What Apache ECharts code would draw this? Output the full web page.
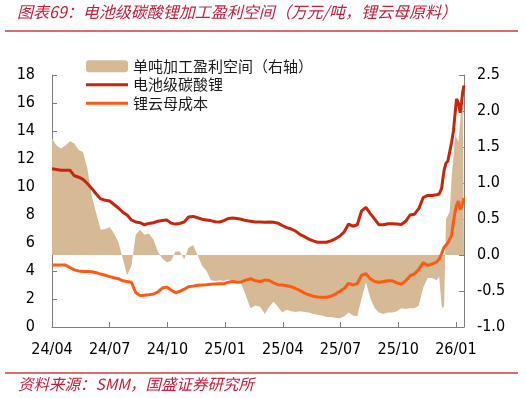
<!DOCTYPE html>
<html>
<head>
<meta charset="utf-8">
<script src="https://cdn.jsdelivr.net/npm/echarts@6/dist/echarts.min.js"></script>
<style>
  html, body { margin: 0; padding: 0; background: #fff; }
  #chart { width: 526px; height: 398px; }
</style>
</head>
<body>
<div id="chart"></div>
<script>
// 周度日期，12月后按几天取点
const dates = [
  '2024-04-01','2024-04-08','2024-04-15','2024-04-22','2024-04-29',
  '2024-05-06','2024-05-13','2024-05-20','2024-05-27',
  '2024-06-03','2024-06-10','2024-06-17','2024-06-24',
  '2024-07-01','2024-07-08','2024-07-15','2024-07-22','2024-07-29',
  '2024-08-05','2024-08-12','2024-08-19','2024-08-26',
  '2024-09-02','2024-09-09','2024-09-16','2024-09-23','2024-09-30',
  '2024-10-07','2024-10-14','2024-10-21','2024-10-28',
  '2024-11-04','2024-11-11','2024-11-18','2024-11-25',
  '2024-12-02','2024-12-09','2024-12-16','2024-12-23','2024-12-30',
  '2025-01-06','2025-01-13','2025-01-20','2025-01-27',
  '2025-02-03','2025-02-10','2025-02-17','2025-02-24',
  '2025-03-03','2025-03-10','2025-03-17','2025-03-24','2025-03-31',
  '2025-04-07','2025-04-14','2025-04-21','2025-04-28',
  '2025-05-05','2025-05-12','2025-05-19','2025-05-26',
  '2025-06-02','2025-06-09','2025-06-16','2025-06-23','2025-06-30',
  '2025-07-07','2025-07-14','2025-07-21','2025-07-28',
  '2025-08-04','2025-08-11','2025-08-18','2025-08-25',
  '2025-09-01','2025-09-08','2025-09-15','2025-09-22','2025-09-29',
  '2025-10-06','2025-10-13','2025-10-20','2025-10-27',
  '2025-11-03','2025-11-10','2025-11-17','2025-11-24',
  '2025-12-01','2025-12-05','2025-12-09','2025-12-11','2025-12-13','2025-12-16',
  '2025-12-19','2025-12-22','2025-12-25','2025-12-28','2025-12-31',
  '2026-01-02','2026-01-05','2026-01-08','2026-01-10','2026-01-12','2026-01-14'
];

// 电池级碳酸锂（万元/吨，左轴）
const li2co3Price = [
  11.3, 11.25, 11.2, 11.2, 11.2, 10.8, 10.7, 10.55, 10.25, 9.9,
  9.5, 9.15, 9.05, 9.0, 8.75, 8.5, 8.2, 8.0, 7.65, 7.5,
  7.45, 7.3, 7.4, 7.45, 7.55, 7.6, 7.65, 7.42, 7.35, 7.4,
  7.5, 7.85, 7.9, 7.8, 7.7, 7.65, 7.6, 7.52, 7.5, 7.6,
  7.75, 7.78, 7.75, 7.7, 7.6, 7.55, 7.5, 7.5, 7.48, 7.5,
  7.48, 7.42, 7.25, 7.1, 7.0, 6.85, 6.6, 6.45, 6.28, 6.15,
  6.05, 6.05, 6.05, 6.15, 6.3, 6.5, 6.8, 7.35, 7.2, 7.3,
  8.3, 8.55, 8.1, 7.7, 7.3, 7.3, 7.38, 7.38, 7.35, 7.32,
  7.55, 8.0, 8.05, 8.45, 9.25, 9.4, 9.4, 9.45,
  9.5, 9.9, 10.6, 11.2, 11.7, 11.85, 11.95, 13.2, 14.0, 15.4,
  16.3, 16.0, 15.3, 16.0, 16.8, 17.25
];

// 锂云母成本（万元/吨，左轴）
const lepidoliteCost = [
  4.42, 4.42, 4.42, 4.42, 4.25, 4.08, 4.0, 3.97, 3.96, 3.95,
  3.88, 3.78, 3.7, 3.6, 3.52, 3.45, 3.3, 3.25, 3.2, 2.45,
  2.25, 2.27, 2.3, 2.35, 2.5, 2.78, 2.85, 2.65, 2.45, 2.55,
  2.7, 2.88, 2.92, 2.98, 3.0, 3.02, 3.05, 3.08, 3.09, 3.09,
  3.2, 3.25, 3.2, 3.22, 3.35, 3.45, 3.3, 3.25, 3.35, 3.32,
  3.15, 3.02, 3.0, 2.95, 2.88, 2.75, 2.6, 2.42, 2.3, 2.2,
  2.15, 2.13, 2.12, 2.2, 2.35, 2.55, 2.75, 3.12, 3.0, 3.1,
  3.7, 3.8, 3.45, 3.25, 3.2, 3.25, 3.3, 3.3, 3.15, 3.05,
  3.3, 3.65, 3.8, 4.1, 4.6, 4.4, 4.5, 4.65,
  4.85, 5.25, 5.5, 5.7, 5.85, 6.0, 6.1, 6.55, 7.5, 8.3,
  8.7, 9.0, 8.4, 8.55, 8.9, 9.2
];

// 单吨加工盈利空间（万元/吨，右轴）
const unitMargin = [
  1.62, 1.52, 1.48, 1.52, 1.58, 1.55, 1.46, 1.43, 1.2, 0.82,
  0.58, 0.35, 0.36, 0.39, 0.3, 0.18, -0.05, -0.28, -0.15, 0.28,
  0.35, 0.28, 0.3, 0.22, 0.05, -0.05, -0.1, -0.08, 0.05, 0.05,
  -0.06, 0.1, 0.14, 0.0, -0.15, -0.22, -0.35, -0.36, -0.35, -0.36,
  -0.34, -0.36, -0.37, -0.4, -0.56, -0.74, -0.7, -0.72, -0.82, -0.72,
  -0.65, -0.72, -0.8, -0.76, -0.78, -0.79, -0.78, -0.79, -0.8, -0.82,
  -0.83, -0.84, -0.86, -0.86, -0.87, -0.88, -0.85, -0.8, -0.84, -0.85,
  -0.6, -0.38, -0.6, -0.74, -0.8, -0.82, -0.8, -0.8, -0.78, -0.74,
  -0.75, -0.74, -0.74, -0.7, -0.45, -0.32, -0.32, -0.35,
  -0.3, -0.7, -0.74, -0.7, 0.5, 0.55, 0.6, 1.06, 1.05, 1.67,
  1.67, 1.57, 1.57, 2.05, 2.08, 2.1
];

const tickLabels = ['24/04', '24/07', '24/10', '25/01', '25/04', '25/07', '25/10', '26/01'];

/* 日期换成从 2024/04 起的月数 */
function monthIndex(s) {
  const [y, m, d] = s.split('-').map(Number);
  const days = new Date(y, m, 0).getDate();
  return (y - 2024) * 12 + (m - 4) + (d - 1) / days;
}
const xs = dates.map(monthIndex);
const pair = arr => arr.map((v, i) => [xs[i], v]);

const numFont = '"DejaVu Sans Condensed", "DejaVu Sans", sans-serif';
const cjkFont = '"Noto Sans CJK SC", sans-serif';
const axisGrey = '#7f7f7f';
const red = '#C41E3A';
// 图例里的细线，上下留空让它保持 3px 粗
const lineIcon = 'path://M0,0M42,12M0,4.5L42,4.5L42,7.5L0,7.5Z';

const chart = echarts.init(document.getElementById('chart'));
const option = {
  animation: false,
  grid: { left: 52, right: 62, top: 75, bottom: 71 },
  legend: {
    orient: 'vertical',
    left: 81,
    top: 52,
    itemWidth: 42,
    itemHeight: 12,
    itemGap: 0,
    textStyle: { fontFamily: cjkFont, fontSize: 15, color: '#1a1a1a', lineHeight: 18.5 },
    data: [
      { name: '单吨加工盈利空间（右轴）', icon: 'roundRect' },
      { name: '电池级碳酸锂', icon: lineIcon },
      { name: '锂云母成本', icon: lineIcon }
    ]
  },
  xAxis: {
    type: 'value',
    min: 0,
    max: 21.42,
    interval: 3,
    splitLine: { show: false },
    axisLine: { lineStyle: { color: axisGrey } },
    axisTick: { inside: true, length: 5, lineStyle: { color: axisGrey } },
    axisLabel: {
      margin: 15,
      fontFamily: numFont,
      fontSize: 16,
      color: '#000',
      formatter: v => (Math.abs(v / 3 - Math.round(v / 3)) < 1e-6 ? (tickLabels[Math.round(v / 3)] || '') : '')
    }
  },
  yAxis: [
    {
      type: 'value',
      min: 0,
      max: 18,
      interval: 2,
      splitLine: { show: false },
      axisLine: { show: true, lineStyle: { color: axisGrey } },
      axisTick: { show: true, inside: true, length: 5, lineStyle: { color: axisGrey } },
      axisLabel: { margin: 17, fontFamily: numFont, fontSize: 16, color: '#000' }
    },
    {
      type: 'value',
      position: 'right',
      min: -1,
      max: 2.5,
      interval: 0.5,
      splitLine: { show: false },
      axisLine: { show: true, lineStyle: { color: axisGrey } },
      axisTick: { show: true, inside: true, length: 5, lineStyle: { color: axisGrey } },
      axisLabel: {
        margin: 13,
        fontFamily: numFont,
        fontSize: 16,
        color: '#000',
        formatter: v => v.toFixed(1)
      }
    }
  ],
  series: [
    {
      name: '单吨加工盈利空间（右轴）',
      type: 'line',
      yAxisIndex: 1,
      symbol: 'none',
      data: pair(unitMargin),
      itemStyle: { color: '#D6BA96' },
      lineStyle: { width: 0, color: '#D6BA96' },
      areaStyle: { color: '#D6BA96', opacity: 1 }
    },
    {
      name: '电池级碳酸锂',
      type: 'line',
      symbol: 'none',
      data: pair(li2co3Price),
      itemStyle: { color: '#C8250A' },
      lineStyle: { width: 3, color: '#C8250A' }
    },
    {
      name: '锂云母成本',
      type: 'line',
      symbol: 'none',
      data: pair(lepidoliteCost),
      itemStyle: { color: '#FF5A12' },
      lineStyle: { width: 3, color: '#FF5A12' }
    }
  ],
  graphic: [
    {
      type: 'text',
      left: 17,
      top: 4,
      style: { text: '图表69：电池级碳酸锂加工盈利空间（万元/吨，锂云母原料）', font: 'italic 16px ' + cjkFont, fill: red }
    },
    { type: 'line', shape: { x1: 5, y1: 31, x2: 518, y2: 31 }, style: { stroke: '#D03A3A', lineWidth: 1.5 } },
    { type: 'line', shape: { x1: 5, y1: 373, x2: 518, y2: 373 }, style: { stroke: '#D03A3A', lineWidth: 1.5 } },
    {
      type: 'text',
      left: 18,
      top: 376,
      style: { text: '资料来源：SMM，国盛证券研究所', font: 'italic 15.5px ' + cjkFont, fill: red }
    }
  ]
};
option && chart.setOption(option);
</script>
</body>
</html>
